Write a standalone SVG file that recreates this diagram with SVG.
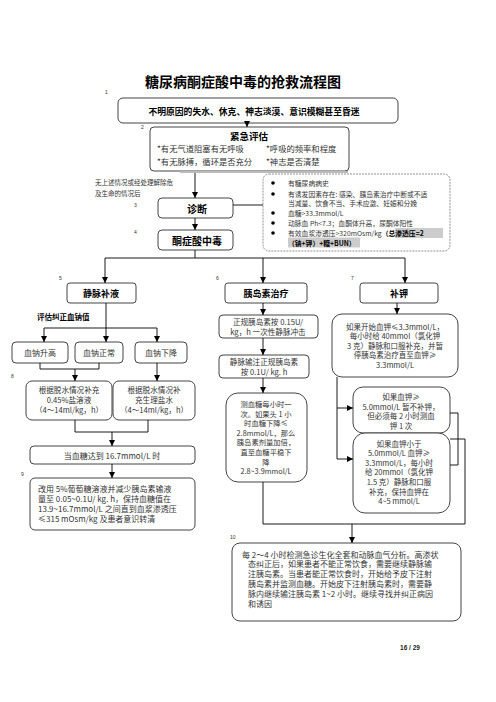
<svg xmlns="http://www.w3.org/2000/svg" width="496" height="702" viewBox="0 0 496 702">
<defs>
<marker id="ah" markerWidth="6" markerHeight="6" refX="6" refY="3" orient="auto" markerUnits="userSpaceOnUse"><path d="M0,0 L6,3 L0,6 z" fill="#000"/></marker>
<style>
.bx{fill:#fff;stroke:#444;stroke-width:1}
.hd{font-family:"Noto Sans CJK SC","Noto Sans",sans-serif;font-weight:bold;fill:#000}
.tx{font-family:"Noto Sans CJK SC","Noto Sans",sans-serif;fill:#333}
.lb{font-family:"Liberation Sans",sans-serif;font-size:5px;fill:#333}
.ln{fill:none;stroke:#000;stroke-width:0.9}
.ar{fill:none;stroke:#000;stroke-width:0.9;marker-end:url(#ah)}
</style>
</defs>
<rect width="496" height="702" fill="#fff"/>
<text class="hd" x="243" y="81" font-size="14" text-anchor="middle" dominant-baseline="central">糖尿病酮症酸中毒的抢救流程图</text>
<g class="lb"><text x="105" y="94">1</text><text x="141" y="129">2</text><text x="134" y="207">3</text><text x="134" y="234">4</text><text x="59" y="280">5</text><text x="216" y="280">6</text><text x="351" y="280">7</text><text x="11" y="378">8</text><text x="21" y="476">9</text><text x="230" y="539">10</text></g>
<g id="n1"><rect class="bx" x="118" y="98" width="280" height="25" rx="5"/><text class="hd" x="254" y="111" font-size="8.8" text-anchor="middle" dominant-baseline="central">不明原因的失水、休克、神志淡漠、意识模糊甚至昏迷</text></g>
<g id="n2"><rect class="bx" x="150" y="127" width="199" height="44" rx="4"/><rect x="180" y="171" width="168" height="2" fill="#bbb"/><text class="hd" x="249" y="136" font-size="9.5" text-anchor="middle" dominant-baseline="central">紧急评估</text><g class="tx" font-size="8.3" dominant-baseline="central"><text x="157" y="148">*有无气道阻塞有无呼吸</text><text x="266" y="148">*呼吸的频率和程度</text><text x="157" y="161">*有无脉搏，循环是否充分</text><text x="266" y="161">*神志是否清楚</text></g></g>
<g class="tx" font-size="6.5" dominant-baseline="central"><text x="95" y="182">无上述情况或经处理解除危</text><text x="95" y="193">及生命的情况后</text></g>
<g id="n3"><rect class="bx" x="158" y="198" width="75" height="20" rx="4"/><text class="hd" x="197" y="208" font-size="10" text-anchor="middle" dominant-baseline="central">诊断</text></g>
<g id="n4"><rect class="bx" x="158" y="230" width="75" height="20" rx="4"/><text class="hd" x="197" y="240" font-size="10" text-anchor="middle" dominant-baseline="central">酮症酸中毒</text></g>
<g id="info"><rect x="263" y="174" width="187" height="77" rx="6" fill="#fff" stroke="#777" stroke-width="0.8" stroke-dasharray="2,1"/><g fill="#000"><circle cx="273" cy="183" r="1.8"/><circle cx="273" cy="194" r="1.8"/><circle cx="273" cy="213" r="1.8"/><circle cx="273" cy="223" r="1.8"/><circle cx="273" cy="233" r="1.8"/></g><rect x="395" y="228" width="48" height="10" fill="#ccc"/><rect x="288" y="237.5" width="72" height="10" fill="#ccc"/><g class="tx" font-size="6.8" dominant-baseline="central"><text x="288" y="183">有糖尿病病史</text><text x="288" y="193.5">有诱发因素存在: 感染、胰岛素治疗中断或不适</text><text x="288" y="203">当减量、饮食不当、手术应激、妊娠和分娩</text><text x="288" y="213">血糖&gt;33.3mmol/L</text><text x="288" y="223">动脉血 Ph&lt;7.3；血酮体升高，尿酮体阳性</text><text x="288" y="233">有效血浆渗透压&gt;320mOsm/kg<tspan font-weight="bold" fill="#000">（总渗透压=2</tspan></text><text x="288" y="242.5" font-weight="bold" fill="#000">（钠+钾）+糖+BUN）</text></g></g>
<g id="n5"><rect class="bx" x="67" y="283" width="69" height="20" rx="3"/><text class="hd" x="101" y="293" font-size="9" text-anchor="middle" dominant-baseline="central">静脉补液</text></g>
<g id="n6"><rect class="bx" x="225" y="283" width="82" height="20" rx="3"/><text class="hd" x="266" y="293" font-size="9" text-anchor="middle" dominant-baseline="central">胰岛素治疗</text></g>
<g id="n7"><rect class="bx" x="360" y="283" width="78" height="20" rx="3"/><text class="hd" x="399" y="293" font-size="9" text-anchor="middle" dominant-baseline="central">补钾</text></g>
<text class="hd" x="37" y="316" font-size="7.5" dominant-baseline="central">评估纠正血钠值</text>
<g id="na1"><rect class="bx" x="12" y="342" width="56" height="21" rx="4"/><text class="tx" x="40" y="352.5" font-size="8" text-anchor="middle" dominant-baseline="central">血钠升高</text></g>
<g id="na2"><rect class="bx" x="75" y="342" width="48" height="21" rx="4"/><text class="tx" x="99" y="352.5" font-size="8" text-anchor="middle" dominant-baseline="central">血钠正常</text></g>
<g id="na3"><rect class="bx" x="135" y="342" width="52" height="21" rx="4"/><text class="tx" x="161" y="352.5" font-size="8" text-anchor="middle" dominant-baseline="central">血钠下降</text></g>
<g id="n8"><rect class="bx" x="26" y="381" width="86" height="39" rx="6"/><g class="tx" font-size="7.6" text-anchor="middle" dominant-baseline="central"><text x="69" y="389.5">根据脱水情况补充</text><text x="69" y="399.5">0.45%盐溶液</text><text x="69" y="409.5">（4～14ml/kg，h）</text></g></g>
<g id="n8b"><rect class="bx" x="113" y="381" width="82" height="39" rx="6"/><g class="tx" font-size="7.6" text-anchor="middle" dominant-baseline="central"><text x="154" y="389.5">根据脱水情况补</text><text x="154" y="399.5">充生理盐水</text><text x="154" y="409.5">（4～14ml/kg，h）</text></g></g>
<g id="nglu"><rect class="bx" x="30" y="446" width="165" height="18" rx="4"/><text class="tx" x="112" y="455.5" font-size="8" text-anchor="middle" dominant-baseline="central">当血糖达到 16.7mmol/L 时</text></g>
<g id="n9"><rect class="bx" x="30" y="478" width="165" height="52" rx="5"/><g class="tx" font-size="8" dominant-baseline="central"><text x="38" y="488">改用 5%葡萄糖溶液并减少胰岛素输液</text><text x="38" y="498">量至 0.05~0.1U/ kg. h，保持血糖值在</text><text x="38" y="508">13.9~16.7mmol/L 之间直到血浆渗透压</text><text x="38" y="518">≤315 mOsm/kg 及患者意识转清</text></g></g>
<g id="m1"><rect class="bx" x="219" y="315" width="99" height="23" rx="4"/><g class="tx" font-size="7.6" text-anchor="middle" dominant-baseline="central"><text x="268" y="321.5">正规胰岛素按 0.15U/</text><text x="268" y="331.5">kg，h 一次性静脉冲击</text></g></g>
<g id="m2"><rect class="bx" x="219" y="355" width="90" height="23" rx="4"/><g class="tx" font-size="7.6" text-anchor="middle" dominant-baseline="central"><text x="264" y="361.5">静脉输注正规胰岛素</text><text x="264" y="371.5">按 0.1U/ kg. h</text></g></g>
<g id="m3"><rect class="bx" x="226" y="393" width="81" height="89" rx="12"/><g class="tx" font-size="7.3" text-anchor="middle" dominant-baseline="central"><text x="266" y="404">测血糖每小时一</text><text x="266" y="413.6">次。如果头 1 小</text><text x="266" y="423.2">时血糖下降≤</text><text x="266" y="432.8">2.8mmol/L，那么</text><text x="266" y="442.4">胰岛素剂量加倍，</text><text x="266" y="452">直至血糖平稳下</text><text x="266" y="461.6">降</text><text x="266" y="471.2">2.8~3.9mmol/L</text></g></g>
<g id="k1"><rect class="bx" x="332" y="314" width="126" height="63" rx="10"/><g class="tx" font-size="7.5" text-anchor="middle" dominant-baseline="central"><text x="395" y="326">如果开始血钾≤3.3mmol/L，</text><text x="395" y="335.5">每小时给 40mmol（氯化钾</text><text x="395" y="345">3 克）静脉和口服补充，并暂</text><text x="395" y="354.5">停胰岛素治疗直至血钾≥</text><text x="395" y="364">3.3mmol/L</text></g></g>
<g id="k2"><rect class="bx" x="353" y="387" width="97" height="46" rx="10"/><g class="tx" font-size="7.5" text-anchor="middle" dominant-baseline="central"><text x="401" y="396.5">如果血钾≥</text><text x="401" y="406">5.0mmol/L 暂不补钾，</text><text x="401" y="415.5">但必须每 2 小时测血</text><text x="401" y="425">钾 1 次</text></g></g>
<g id="k3"><rect class="bx" x="353" y="433" width="97" height="80" rx="12"/><g class="tx" font-size="7.5" text-anchor="middle" dominant-baseline="central"><text x="399" y="443">如果血钾小于</text><text x="399" y="452.6">5.0mmol/L 血钾≥</text><text x="399" y="462.2">3.3mmol/L，每小时</text><text x="399" y="471.8">给 20mmol（氯化钾</text><text x="399" y="481.4">1.5 克）静脉和口服</text><text x="399" y="491">补充，保持血钾在</text><text x="399" y="500.6">4~5 mmol/L</text></g></g>
<g id="n10"><rect class="bx" x="232" y="543" width="229" height="78" rx="8"/><g class="tx" font-size="8" dominant-baseline="central"><text x="242" y="554">每 2～4 小时检测急诊生化全套和动脉血气分析。高渗状</text><text x="248" y="563.8">态纠正后，如果患者不能正常饮食，需要继续静脉输</text><text x="248" y="573.6">注胰岛素。当患者能正常饮食时，开始给予皮下注射</text><text x="248" y="583.4">胰岛素并监测血糖。开始皮下注射胰岛素时，需要静</text><text x="248" y="593.2">脉内继续输注胰岛素 1~2 小时。继续寻找并纠正病因</text><text x="248" y="603">和诱因</text></g></g>
<text x="410" y="647" font-family="Liberation Sans,sans-serif" font-weight="bold" font-size="6.5" text-anchor="middle" dominant-baseline="central" fill="#222">16 / 29</text>
<g id="connectors">
<path class="ar" d="M247,123 V127"/>
<path class="ar" d="M195,173 V198"/>
<path class="ar" d="M195,218 V230"/>
<path class="ln" d="M233,205 H263"/>
<path class="ln" d="M195,250 V258 M105,258 H405"/>
<path class="ar" d="M105,258 V283"/>
<path class="ar" d="M263,258 V283"/>
<path class="ar" d="M405,258 V283"/>
<path class="ar" d="M106,303 V342"/>
<path class="ln" d="M44,328 H157"/>
<path class="ar" d="M44,328 V342"/>
<path class="ar" d="M157,328 V342"/>
<path class="ln" d="M40,363 V369 H99 V363"/>
<path class="ar" d="M75,369 V381"/>
<path class="ar" d="M157,363 V381"/>
<path class="ln" d="M75,420 V432 H148 V420"/>
<path class="ar" d="M112,432 V446"/>
<path class="ar" d="M112,464 V478"/>
<path class="ar" d="M263,303 V315"/>
<path class="ar" d="M263,338 V355"/>
<path class="ar" d="M263,378 V393"/>
<path class="ln" d="M263,482 V524 H465 V439 H450"/>
<path class="ar" d="M352,524 V543"/>
<path class="ar" d="M397,303 V314"/>
<path class="ln" d="M337,377 V459"/>
<path class="ar" d="M337,408 H353"/>
<path class="ar" d="M337,459 H353"/>
<path class="ln" d="M450,413 H458 V465 H450"/>
</g>
</svg>
